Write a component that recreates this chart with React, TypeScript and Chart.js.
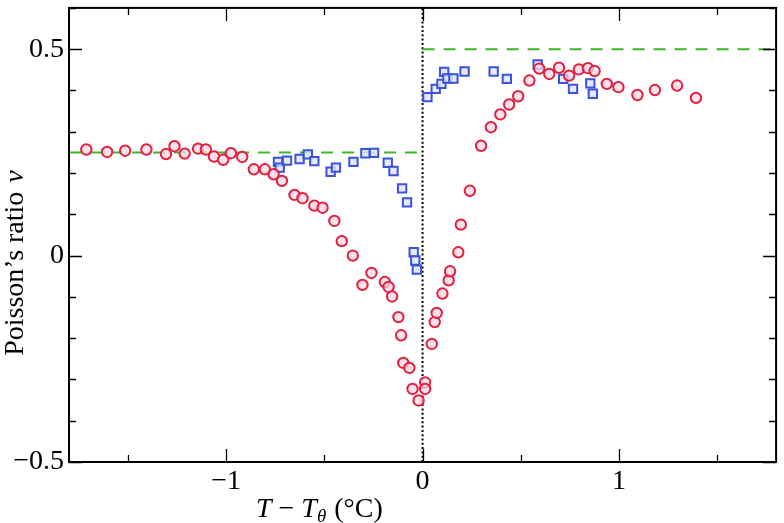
import React, { useEffect, useRef } from 'react';
import { Chart, registerables } from 'chart.js';

Chart.register(...registerables);

// Red circles: (T - Tθ, ν)
const circleX = [
  -1.712, -1.606, -1.514, -1.406, -1.306, -1.263, -1.211, -1.143, -1.103, -1.062,
  -1.015, -0.976, -0.918, -0.859, -0.803, -0.758, -0.716, -0.652, -0.611, -0.551,
  -0.509, -0.449, -0.411, -0.355, -0.306, -0.260, -0.192, -0.173, -0.155, -0.123,
  -0.109, -0.098, -0.067, -0.051, -0.020, 0.013, 0.013, 0.047, 0.062, 0.072,
  0.101, 0.133, 0.140, 0.182, 0.195, 0.241, 0.298, 0.348, 0.396, 0.441,
  0.487, 0.544, 0.594, 0.645, 0.695, 0.746, 0.796, 0.842, 0.876, 0.938,
  0.997, 1.094, 1.183, 1.296, 1.392,
];
const circleY = [
  0.257, 0.251, 0.254, 0.257, 0.246, 0.265, 0.247, 0.259, 0.257, 0.240,
  0.232, 0.248, 0.239, 0.209, 0.209, 0.197, 0.181, 0.147, 0.139, 0.121,
  0.116, 0.084, 0.035, 0.000, -0.071, -0.042, -0.064, -0.076, -0.099, -0.149,
  -0.193, -0.260, -0.272, -0.323, -0.351, -0.307, -0.323, -0.214, -0.161, -0.139,
  -0.092, -0.060, -0.038, 0.008, 0.075, 0.157, 0.266, 0.311, 0.342, 0.366,
  0.386, 0.424, 0.453, 0.440, 0.455, 0.436, 0.451, 0.454, 0.447, 0.416,
  0.408, 0.389, 0.401, 0.412, 0.382,
];

// Blue squares
const squareX = [
  -0.736, -0.727, -0.690, -0.626, -0.584, -0.551, -0.468, -0.441, -0.352, -0.291,
  -0.247, -0.177, -0.148, -0.104, -0.079, -0.045, -0.037, -0.029, 0.025, 0.067,
  0.096, 0.110, 0.126, 0.157, 0.214, 0.362, 0.429, 0.586, 0.716, 0.766,
  0.854, 0.867,
];
const squareY = [
  0.227, 0.213, 0.230, 0.234, 0.245, 0.229, 0.203, 0.213, 0.227, 0.248,
  0.249, 0.225, 0.205, 0.163, 0.129, 0.008, -0.012, -0.034, 0.384, 0.404,
  0.416, 0.445, 0.429, 0.429, 0.446, 0.446, 0.428, 0.463, 0.428, 0.404,
  0.417, 0.392,
];

// Reference levels
const lowLevel = 0.25;
const highLevel = 0.5;

const xMin = -1.8;
const xMax = 1.8;
const yMin = -0.5;
const yMax = 0.6;

const xTickValues = [-1.5, -1, -0.5, 0, 0.5, 1, 1.5];
const xTickLabels = ['', '−1', '', '0', '', '1', ''];
const yTickValues = [-0.5, -0.4, -0.3, -0.2, -0.1, 0, 0.1, 0.2, 0.3, 0.4, 0.5, 0.6];
const yTickLabels = ['−0.5', '', '', '', '', '0', '', '', '', '', '0.5', ''];

const FONT = '"Liberation Serif", "Times New Roman", serif';

type Run = { text: string; italic?: boolean; size: number; dy?: number; gap?: number };

function drawRuns(ctx: CanvasRenderingContext2D, runs: Run[], x: number, y: number, center: boolean) {
  const widths = runs.map((r) => {
    ctx.font = `${r.italic ? 'italic ' : ''}${r.size}px ${FONT}`;
    return ctx.measureText(r.text).width + (r.gap || 0);
  });
  const total = widths.reduce((a, b) => a + b, 0);
  let cx = center ? x - total / 2 : x;
  runs.forEach((r, i) => {
    ctx.font = `${r.italic ? 'italic ' : ''}${r.size}px ${FONT}`;
    ctx.fillText(r.text, cx, y + (r.dy || 0));
    cx += widths[i];
  });
}

const framePlugin = {
  id: 'framePlugin',
  afterDraw(chart: any) {
    const { ctx, chartArea: a, scales } = chart;
    ctx.save();
    ctx.strokeStyle = '#000';
    ctx.lineWidth = 1.3;
    ctx.beginPath();
    xTickValues.forEach((v, i) => {
      const px = Math.round(scales.x.getPixelForValue(v)) + 0.5;
      const len = xTickLabels[i] ? 13 : 7;
      ctx.moveTo(px, a.bottom);
      ctx.lineTo(px, a.bottom - len);
      ctx.moveTo(px, a.top);
      ctx.lineTo(px, a.top + len);
    });
    yTickValues.forEach((v, i) => {
      const py = Math.round(scales.y.getPixelForValue(v)) + 0.5;
      const len = yTickLabels[i] ? 13 : 7;
      ctx.moveTo(a.left, py);
      ctx.lineTo(a.left + len, py);
      ctx.moveTo(a.right, py);
      ctx.lineTo(a.right - len, py);
    });
    ctx.stroke();
    ctx.lineWidth = 2;
    ctx.strokeRect(a.left, a.top, a.right - a.left, a.bottom - a.top);

    // axis titles
    ctx.fillStyle = '#000';
    ctx.textBaseline = 'alphabetic';
    ctx.textAlign = 'left';
    drawRuns(
      ctx,
      [
        { text: 'T', italic: true, size: 28, gap: 7 },
        { text: '−', size: 28, gap: 7 },
        { text: 'T', italic: true, size: 28 },
        { text: 'θ', italic: true, size: 19, dy: 5, gap: 8 },
        { text: '(°C)', size: 28 },
      ],
      256,
      517,
      false
    );
    ctx.save();
    ctx.translate(23, 263);
    ctx.rotate(-Math.PI / 2);
    drawRuns(
      ctx,
      [
        { text: 'Poisson’s ratio ', size: 28, gap: 2 },
        { text: 'ν', italic: true, size: 28 },
      ],
      0,
      0,
      true
    );
    ctx.restore();
    ctx.restore();
  },
};

export default function App() {
  const ref = useRef<HTMLCanvasElement | null>(null);

  useEffect(() => {
    if (!ref.current) return;
    const circles = circleX.map((x, i) => ({ x, y: circleY[i] }));
    const squares = squareX.map((x, i) => ({ x, y: squareY[i] }));
    const chart = new Chart(ref.current, {
      type: 'scatter',
      data: {
        datasets: [
          {
            label: 'circles',
            data: circles,
            pointStyle: 'circle',
            pointRadius: 5.2,
            borderWidth: 2,
            borderColor: '#e3203f',
            backgroundColor: 'rgba(250, 215, 228, 0.75)',
            order: 0,
          },
          {
            label: 'squares',
            data: squares,
            pointStyle: 'rect',
            pointRadius: 5.9,
            borderWidth: 2,
            borderColor: '#3a52e0',
            backgroundColor: 'rgba(225, 228, 250, 0.8)',
            order: 1,
          },
          {
            label: 'low',
            data: [
              { x: xMin, y: lowLevel },
              { x: 0, y: lowLevel },
            ],
            showLine: true,
            pointRadius: 0,
            borderColor: '#3fb52a',
            borderWidth: 2,
            borderDash: [12, 9],
            order: 2,
          },
          {
            label: 'high',
            data: [
              { x: 0, y: highLevel },
              { x: xMax, y: highLevel },
            ],
            showLine: true,
            pointRadius: 0,
            borderColor: '#3fb52a',
            borderWidth: 2,
            borderDash: [12, 9],
            order: 2,
          },
          {
            label: 'zero',
            data: [
              { x: 0, y: yMin },
              { x: 0, y: yMax },
            ],
            showLine: true,
            pointRadius: 0,
            borderColor: '#000',
            borderWidth: 2,
            borderDash: [2, 2.3],
            order: 3,
          },
        ],
      },
      options: {
        animation: false,
        responsive: false,
        devicePixelRatio: 1,
        layout: { padding: { top: 3, right: 3, left: 0, bottom: 0 } },
        plugins: { legend: { display: false }, tooltip: { enabled: false } },
        scales: {
          x: {
            type: 'linear',
            min: xMin,
            max: xMax,
            grid: { display: false, drawTicks: false },
            border: { display: false },
            afterBuildTicks: (scale: any) => {
              scale.ticks = xTickValues.map((v) => ({ value: v }));
            },
            afterFit: (scale: any) => {
              scale.height = 61;
              scale.paddingLeft = 0;
              scale.paddingRight = 0;
              scale.paddingTop = 0;
              scale.paddingBottom = 0;
            },
            ticks: {
              autoSkip: false,
              maxRotation: 0,
              padding: 3,
              color: '#000',
              font: { family: FONT, size: 28 },
              callback: (_v: any, i: number) => xTickLabels[i],
            },
          },
          y: {
            type: 'linear',
            min: yMin,
            max: yMax,
            grid: { display: false, drawTicks: false },
            border: { display: false },
            afterBuildTicks: (scale: any) => {
              scale.ticks = yTickValues.map((v) => ({ value: v }));
            },
            afterFit: (scale: any) => {
              scale.width = 69;
              scale.paddingLeft = 0;
              scale.paddingRight = 0;
              scale.paddingTop = 0;
              scale.paddingBottom = 0;
            },
            ticks: {
              autoSkip: false,
              padding: 5,
              color: '#000',
              font: { family: FONT, size: 28 },
              callback: (_v: any, i: number) => yTickLabels[i],
            },
          },
        },
      },
      plugins: [framePlugin],
    });
    return () => chart.destroy();
  }, []);

  return (
    <div style={{ position: 'fixed', left: 0, top: 0, width: 784, height: 523, background: '#fff' }}>
      <canvas ref={ref} width={784} height={523} style={{ width: 784, height: 523, display: 'block' }} />
    </div>
  );
}
